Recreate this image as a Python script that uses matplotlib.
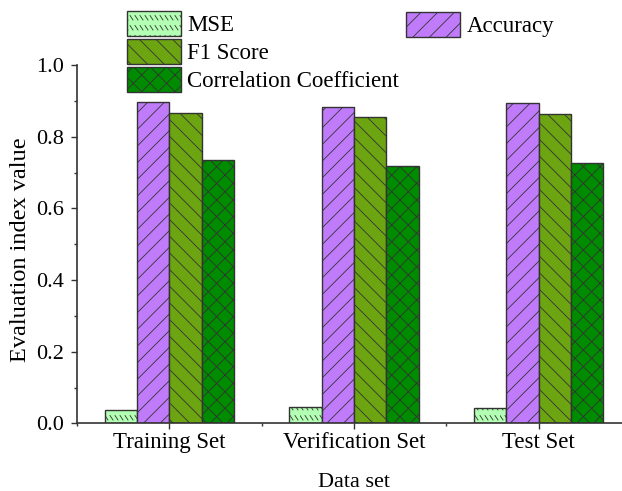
import matplotlib.pyplot as plt
import numpy as np
from matplotlib import hatch as mhatch
from matplotlib.path import Path

plt.rcParams['font.family'] = ['Liberation Serif', 'DejaVu Serif']
plt.rcParams['hatch.linewidth'] = 0.6

datasets = ['Training Set', 'Verification Set', 'Test Set']
mse = [0.037, 0.045, 0.042]
accuracy = [0.897, 0.883, 0.894]
f1 = [0.868, 0.856, 0.864]
corr = [0.735, 0.719, 0.726]


# Origin-like pattern: rows of short back-slash dashes (used for '*')
class DashRows(mhatch.HatchPatternBase):
    def __init__(self, hatch, density):
        n = hatch.count('*')
        self.rows = 10 * n
        self.cols = 20 * n
        self.num_vertices = self.rows * self.cols * 2

    def set_vertices_and_codes(self, vertices, codes):
        k = 0
        for r in range(self.rows):
            y0 = r / self.rows
            for c in range(self.cols):
                x0 = c / self.cols
                vertices[k] = (x0, y0 + 0.045)
                vertices[k + 1] = (x0 + 0.03, y0)
                codes[k] = Path.MOVETO
                codes[k + 1] = Path.LINETO
                k += 2


mhatch._hatch_types = [t for t in mhatch._hatch_types if t.__name__ != 'Stars'] + [DashRows]

series = [('MSE', mse, '#b3ffb3', '*'),
          ('Accuracy', accuracy, '#bf7bfa', '//'),
          ('F1 Score', f1, '#6ca412', '\\\\'),
          ('Correlation Coefficient', corr, '#008c00', 'xx')]

fig = plt.figure(figsize=(6.22, 4.91), dpi=100)
ax = fig.add_axes([77 / 622, 67.7 / 491, 554 / 622, 358 / 491])

x = np.arange(len(datasets))
w = 0.175
bars = []
for i, (name, vals, col, hatch) in enumerate(series):
    b = ax.bar(x + (i - 1.5) * w, vals, w, color=col, edgecolor='#333333',
               hatch=hatch, linewidth=1.0, label=name)
    bars.append(b)

ax.set_xlim(-0.5, 2.5)
ax.set_ylim(0, 1.0)
ax.set_xticks(x)
ax.set_xticklabels(datasets)
ax.set_xticks([-0.5, 0.5, 1.5, 2.5], minor=True)
ax.set_yticks(np.arange(0, 1.01, 0.2))
ax.set_yticklabels(['%.1f' % v for v in np.arange(0, 1.01, 0.2)])
ax.set_yticks(np.arange(0.1, 1.0, 0.2), minor=True)
ax.tick_params(axis='both', which='major', labelsize=16, length=4.5, width=1.0,
               direction='out', color='#333333')
ax.tick_params(axis='both', which='minor', length=2.2, width=1.0,
               direction='out', color='#333333')
ax.tick_params(axis='x', which='major', labelsize=16.5, pad=2)
ax.tick_params(axis='y', which='major', pad=5)
ax.spines['top'].set_visible(False)
ax.spines['right'].set_visible(False)
for s in ['left', 'bottom']:
    ax.spines[s].set_linewidth(1.2)
    ax.spines[s].set_color('#333333')

ax.set_xlabel('Data set', fontsize=16)
ax.set_ylabel('Evaluation index value', fontsize=17.5)
ax.xaxis.set_label_coords((354 - 77) / 554, -0.139)
ax.yaxis.set_label_coords(-0.083, 0.484)

leg_kw = dict(frameon=False, fontsize=16.5, handlelength=2.35, handleheight=1.32,
              handletextpad=0.3, labelspacing=0.12, borderpad=0, borderaxespad=0,
              loc='upper left')
leg1 = fig.legend([bars[0], bars[2], bars[3]],
                  [series[0][0], series[2][0], series[3][0]],
                  bbox_to_anchor=(126.7 / 622, 1 - 11 / 491), **leg_kw)
leg2 = fig.legend([bars[1]], [series[1][0]],
                  bbox_to_anchor=(406 / 622, 1 - 11.5 / 491), **leg_kw)

fig.savefig('out.png', dpi=100)
